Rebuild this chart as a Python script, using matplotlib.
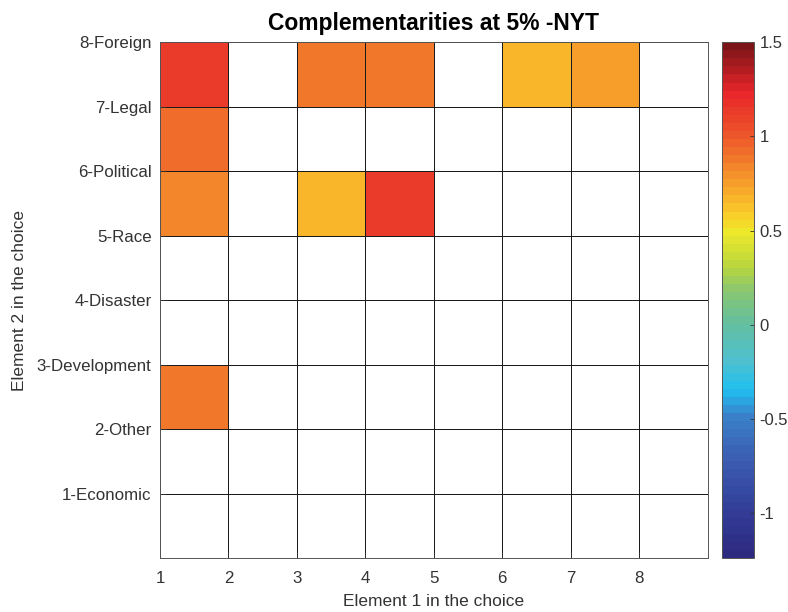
import numpy as np
import matplotlib
matplotlib.use("Agg")
import matplotlib.pyplot as plt
from matplotlib.colors import LinearSegmentedColormap

plt.rcParams['font.family'] = ['Liberation Sans', 'DejaVu Sans']

# Data ---------------------------------------------------------------
title = "Complementarities at 5% -NYT"
x_label = "Element 1 in the choice"
y_label = "Element 2 in the choice"
x_ticks = [1, 2, 3, 4, 5, 6, 7, 8]
y_ticks = [1, 2, 3, 4, 5, 6, 7, 8]
y_tick_labels = ["1-Economic", "2-Other", "3-Development", "4-Disaster",
                 "5-Race", "6-Political", "7-Legal", "8-Foreign"]
x_edges = [1, 2, 3, 4, 5, 6, 7, 8, 9]
y_edges = [0, 1, 2, 3, 4, 5, 6, 7, 8]
# rows: y cells 0-1 ... 7-8 ; columns: x cells 1-2 ... 8-9 (None = not significant)
row_0_1 = [None, None, None, None, None, None, None, None]
row_1_2 = [None, None, None, None, None, None, None, None]
row_2_3 = [0.88, None, None, None, None, None, None, None]
row_3_4 = [None, None, None, None, None, None, None, None]
row_4_5 = [None, None, None, None, None, None, None, None]
row_5_6 = [0.85, None, 0.65, 1.15, None, None, None, None]
row_6_7 = [0.93, None, None, None, None, None, None, None]
row_7_8 = [1.15, None, 0.89, 0.89, None, 0.65, 0.73, None]
cbar_ticks = [-1, -0.5, 0, 0.5, 1, 1.5]
vmin, vmax = -1.24, 1.5

# Colormap (jet-like, as in reference colorbar) ------------------------
anchor_vals = [-1.24, -1.0, -0.75, -0.5, -0.35, -0.2, 0.0, 0.2, 0.3,
               0.5, 0.6, 0.75, 1.0, 1.25, 1.5]
anchor_cols = ["#2e2a80", "#323e98", "#3a5ab0", "#3a80c8", "#1fc0f0",
               "#4fc0d0", "#62bfa0", "#8fc86a", "#b6d53f", "#eee82a",
               "#fbcb2a", "#f6a02a", "#ee5a2a", "#e8262a", "#7a1418"]
cmap = LinearSegmentedColormap.from_list(
    "refjet",
    [((v - vmin) / (vmax - vmin), c) for v, c in zip(anchor_vals, anchor_cols)],
    N=64)
cmap.set_bad("white")

rows = [row_0_1, row_1_2, row_2_3, row_3_4, row_4_5, row_5_6, row_6_7, row_7_8]
Z = np.array([[np.nan if v is None else v for v in r] for r in rows], dtype=float)
Zm = np.ma.masked_invalid(Z)

fig = plt.figure(figsize=(7.88, 6.12), dpi=100)
ax = fig.add_axes([0.203, 0.088, 0.695, 0.843])
mesh = ax.pcolormesh(x_edges, y_edges, Zm, cmap=cmap, vmin=vmin, vmax=vmax,
                     edgecolors="#1a1a1a", linewidth=0.55)
ax.set_xlim(1, 9)
ax.set_ylim(0, 8)
ax.set_xticks(x_ticks)
ax.set_xticklabels([str(t) for t in x_ticks])
ax.set_yticks(y_ticks)
ax.set_yticklabels(y_tick_labels)
txtcol = "#333333"
ax.tick_params(axis="both", direction="in", length=4, width=0.6,
               labelsize=12.2, colors=txtcol)
ax.tick_params(axis="x", pad=9)
ax.tick_params(axis="y", pad=6)
for s in ax.spines.values():
    s.set_color("#555555")
    s.set_linewidth(0.7)
ax.set_xlabel(x_label, fontsize=12.5, color=txtcol, labelpad=6)
ax.set_ylabel(y_label, fontsize=12.5, color=txtcol, labelpad=7)
ax.set_title(title, fontsize=16.5, fontweight="bold", pad=9)

cax = fig.add_axes([0.916, 0.088, 0.041, 0.843])
cb = fig.colorbar(mesh, cax=cax, ticks=cbar_ticks)
cb.ax.set_yticklabels(["-1", "-0.5", "0", "0.5", "1", "1.5"])
cb.ax.tick_params(direction="in", length=3, width=0.6, labelsize=12,
                  colors=txtcol, pad=4)
cb.outline.set_edgecolor("#555555")
cb.outline.set_linewidth(0.7)

fig.savefig("out.png", dpi=100)
